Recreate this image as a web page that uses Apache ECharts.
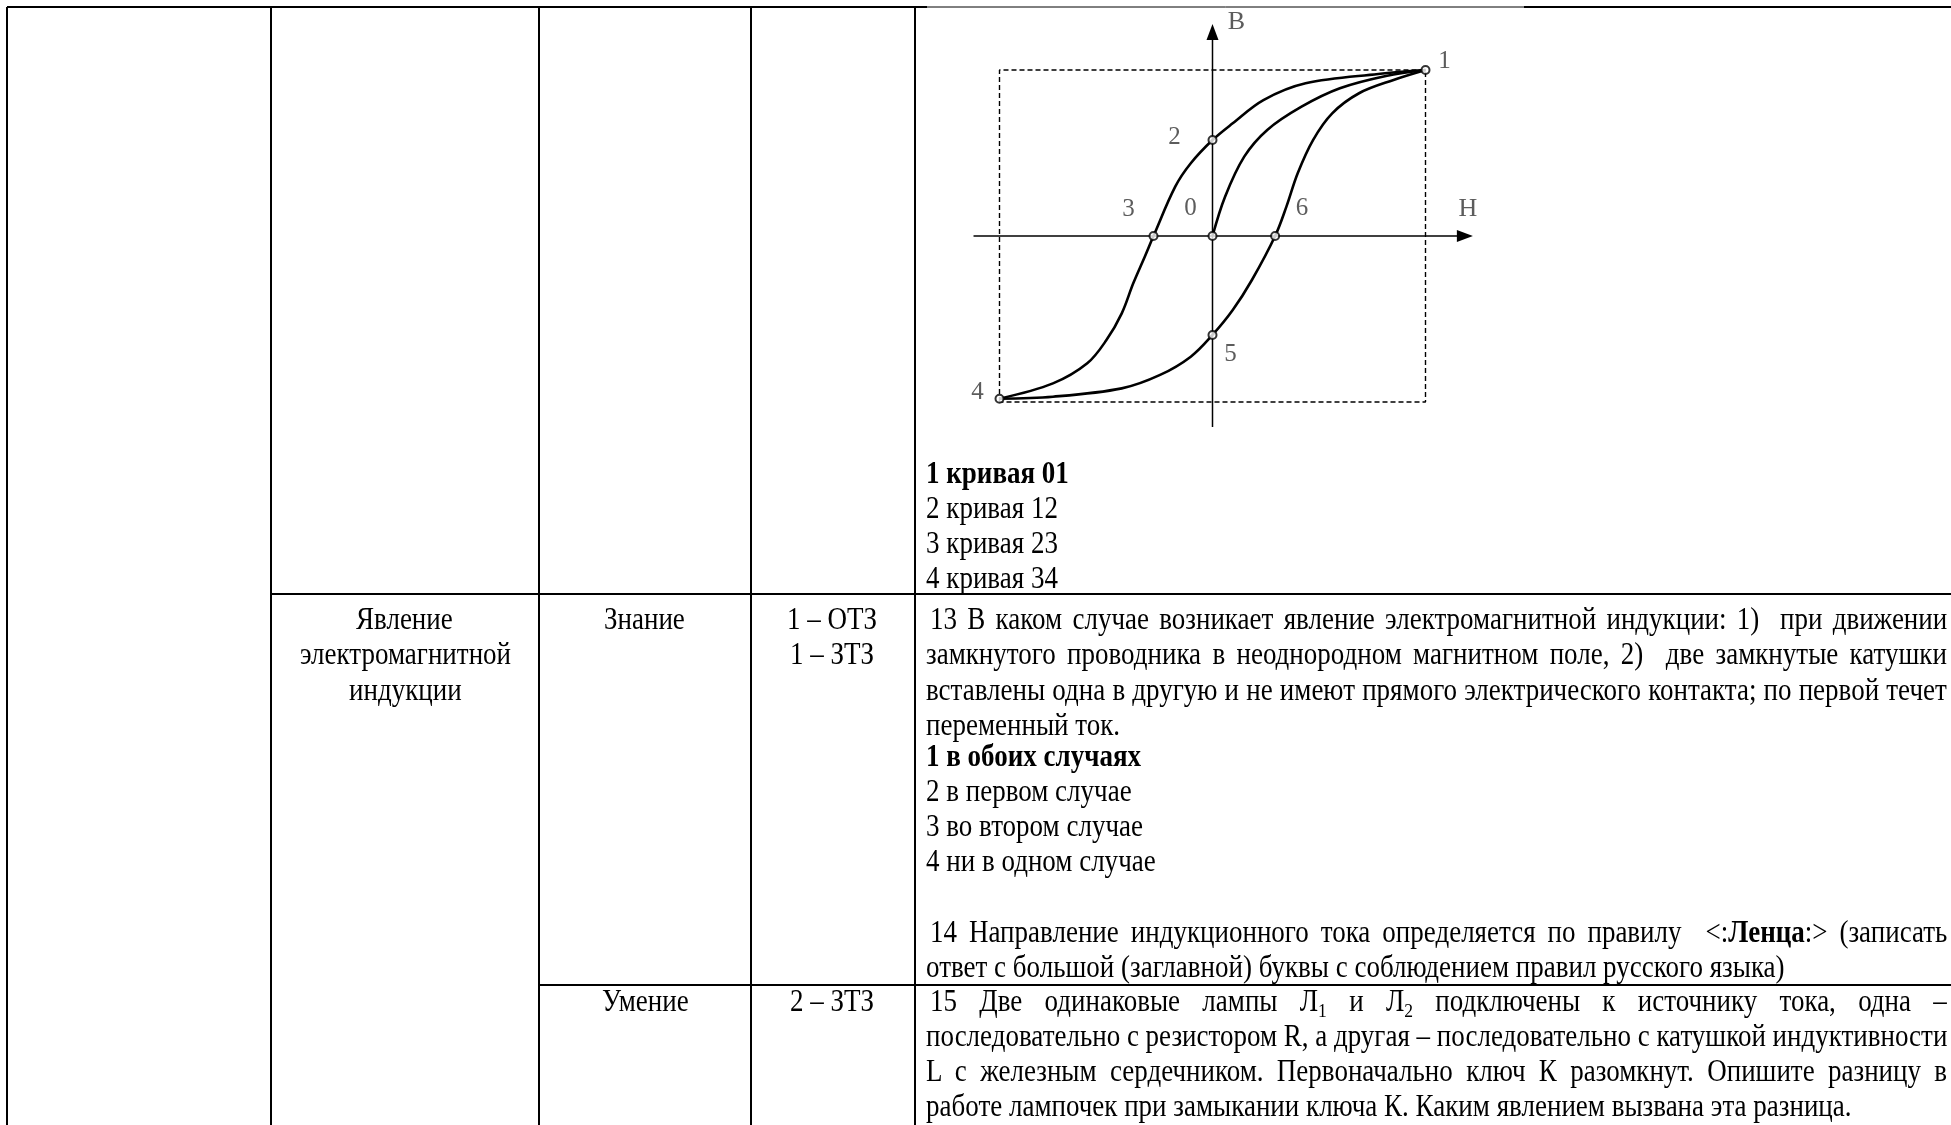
<!DOCTYPE html>
<html>
<head>
<meta charset="utf-8">
<script src="https://cdn.jsdelivr.net/npm/echarts@6/dist/echarts.min.js"></script>
<style>
html, body { margin: 0; padding: 0; background: #fff; }
#main { position: absolute; left: 0; top: 0; width: 1951px; height: 1125px; }
.ln { position: absolute; white-space: pre; font-family: "Liberation Serif", "Times New Roman", serif;
      font-size: 30.6px; line-height: 35.2px; color: #000; transform-origin: 0 0; }
.sub { font-size: 0.65em; line-height: 0; position: relative; top: 0.3em; }
</style>
</head>
<body>
<div id="main"></div>
<script>
// петля гистерезиса: H по горизонтали, B по вертикали (в долях от насыщения)
var curve01H = [0, 0.059, 0.149, 0.257, 0.418, 0.598, 0.814, 1];
var curve01B = [0, 0.237, 0.478, 0.639, 0.779, 0.89, 0.964, 1];

// верхняя ветвь 1 - 2 - 3 - 4
var upperH = [1, 0.778, 0.437, 0.239, 0.095, 0, -0.102, -0.175, -0.277, -0.318, -0.372, -0.426, -0.498, -0.588, -0.749, -1];
var upperB = [1, 0.976, 0.92, 0.819, 0.679, 0.578, 0.438, 0.297, 0, -0.125, -0.285, -0.466, -0.627, -0.767, -0.888, -0.98];

// нижняя ветвь 4 - 5 - 6 - 1
var lowerH = [-1, -0.749, -0.426, -0.246, -0.102, 0, 0.095, 0.185, 0.294, 0.347, 0.4, 0.472, 0.562, 0.688, 0.85, 1];
var lowerB = [-0.98, -0.968, -0.918, -0.837, -0.727, -0.596, -0.446, -0.265, 0, 0.177, 0.378, 0.578, 0.739, 0.86, 0.94, 1];

// отмеченные точки
var pointNames = ['0', '1', '2', '3', '4', '5', '6'];
var pointH = [0, 1, 0, -0.277, -1, 0, 0.294];
var pointB = [0, 1, 0.578, 0, -0.98, -0.596, 0];

// пунктирная рамка насыщения
var rectH = [-1, -1, 1, 1, -1];
var rectB = [-1, 1, 1, -1, -1];

// оси
var axisNames = ['H', 'B'];
var hAxisRange = [-1.122, 1.185];
var bAxisRange = [-1.15, 1.229];

// текст таблицы
var col2Row2 = ['Явление', 'электромагнитной', 'индукции'];
var col3Row2 = ['Знание'];
var col4Row2 = ['1 – ОТЗ', '1 – ЗТЗ'];
var col3Row3 = ['Умение'];
var col4Row3 = ['2 – ЗТЗ'];
var answers12 = ['<b>1 кривая 01</b>', '2 кривая 12', '3 кривая 23', '4 кривая 34'];
var question13 = [
    ' 13 В каком случае возникает явление электромагнитной индукции: 1)  при движении',
    'замкнутого проводника в неоднородном магнитном поле, 2)  две замкнутые катушки',
    'вставлены одна в другую и не имеют прямого электрического контакта; по первой течет',
    'переменный ток.'
];
var answers13 = ['<b>1 в обоих случаях</b>', '2 в первом случае', '3 во втором случае', '4 ни в одном случае'];
var question14 = [
    ' 14 Направление индукционного тока определяется по правилу  &lt;:<b>Ленца</b>:&gt; (записать',
    'ответ с большой (заглавной) буквы с соблюдением правил русского языка)'
];
var question15 = [
    ' 15 Две одинаковые лампы Л<span class="sub">1</span> и Л<span class="sub">2</span> подключены к источнику тока, одна –',
    'последовательно с резистором R, а другая – последовательно с катушкой индуктивности',
    'L с железным сердечником. Первоначально ключ К разомкнут. Опишите разницу в',
    'работе лампочек при замыкании ключа К. Каким явлением вызвана эта разница.'
];

var chart = echarts.init(document.getElementById('main'));

var originX = 1212.5, originY = 236, unitH = 213, unitB = 166;
var hMin = -1.2, hMax = 1.3, bMin = -1.3, bMax = 1.3;

function pairs(xs, ys) {
    return xs.map(function (x, i) { return [x, ys[i]]; });
}

var labelOffsets = {
    '0': [-22, -28], '1': [19, -9], '2': [-38, -3], '3': [-25, -27],
    '4': [-22, -6], '5': [18, 20], '6': [27, -28], 'H': [3, -27], 'B': [24, -10]
};
var labelFont = { fontFamily: 'Liberation Serif', fontSize: 25, color: '#333' };

function curve(name, xs, ys) {
    return {
        type: 'line', name: name, data: pairs(xs, ys), symbol: 'none', smooth: 0.35,
        lineStyle: { color: '#000', width: 2.6 }, z: 3
    };
}

function axisSeries(name, data) {
    return {
        type: 'line', name: name, data: data, symbol: 'none',
        itemStyle: { color: '#000' }, lineStyle: { color: '#000', width: 1.5 }, z: 2
    };
}

var hAxisData = [
    { value: [hAxisRange[0], 0] },
    { value: [hAxisRange[1], 0], symbol: 'triangle', symbolSize: [12, 16], symbolRotate: -90 }
];
var bAxisData = [
    { value: [0, bAxisRange[0]] },
    { value: [0, bAxisRange[1]], symbol: 'triangle', symbolSize: [12, 16] }
];

// линии таблицы
var tableLines = [
    [7, 7, 927, 7, 2], [927, 7, 1524, 7, 1], [1524, 7, 1951, 7, 2],
    [7, 7, 7, 1125, 2], [271, 7, 271, 1125, 2], [539, 7, 539, 1125, 2],
    [751, 7, 751, 1125, 2], [915, 7, 915, 1125, 2],
    [271, 594, 1951, 594, 2], [539, 985, 1951, 985, 2]
];
var graphics = [];
tableLines.forEach(function (l) {
    graphics.push({
        type: 'line', z: 10, shape: { x1: l[0], y1: l[1], x2: l[2], y2: l[3] },
        style: { stroke: '#000', lineWidth: l[4] }
    });
});

var option = {
    animation: false,
    grid: {
        left: originX + hMin * unitH, top: originY - bMax * unitB,
        width: (hMax - hMin) * unitH, height: (bMax - bMin) * unitB
    },
    xAxis: { type: 'value', min: hMin, max: hMax, show: false },
    yAxis: { type: 'value', min: bMin, max: bMax, show: false },
    graphic: graphics,
    series: [
        {
            type: 'line', name: 'рамка', data: pairs(rectH, rectB), symbol: 'none',
            lineStyle: { color: '#000', width: 1.4, type: [5, 3] }, z: 1
        },
        axisSeries('H', hAxisData),
        axisSeries('B', bAxisData),
        curve('01', curve01H, curve01B),
        curve('1234', upperH, upperB),
        curve('4561', lowerH, lowerB),
        {
            type: 'scatter', name: 'подписи осей',
            data: [[hAxisRange[1], 0], [0, bAxisRange[1]]],
            symbol: 'circle', symbolSize: 1, itemStyle: { color: 'rgba(0,0,0,0)' },
            label: {
                show: true, position: 'inside', align: 'center', verticalAlign: 'middle',
                fontFamily: labelFont.fontFamily, fontSize: 26, color: labelFont.color,
                formatter: function (p) { return axisNames[p.dataIndex]; }
            },
            labelLayout: function (p) {
                var o = labelOffsets[axisNames[p.dataIndex]];
                return { dx: o[0], dy: o[1] };
            },
            z: 6
        },
        {
            type: 'scatter', name: 'точки',
            data: pairs(pointH, pointB),
            symbol: 'emptyCircle', symbolSize: 8,
            itemStyle: { color: '#000', borderColor: '#000', borderWidth: 1.3 },
            label: {
                show: true, position: 'inside', align: 'center', verticalAlign: 'middle',
                fontFamily: labelFont.fontFamily, fontSize: labelFont.fontSize, color: labelFont.color,
                formatter: function (p) { return pointNames[p.dataIndex]; }
            },
            labelLayout: function (p) {
                var o = labelOffsets[pointNames[p.dataIndex]];
                return { dx: o[0], dy: o[1] };
            },
            z: 5
        }
    ]
};
chart.setOption(option);

// ----- текст таблицы -----
var LH = 35.2, ASC = 27.9;

function makeLine(html) {
    var d = document.createElement('div');
    d.className = 'ln';
    d.innerHTML = html;
    document.body.appendChild(d);
    return d;
}

// горизонтальное сжатие скана
var refA = makeLine(question15[3]);
var refB = makeLine(question14[1]);
var sx = (919 + 865) / (refA.offsetWidth + refB.offsetWidth);
document.body.removeChild(refA);
document.body.removeChild(refB);

function place(html, x, baseline, mode, right) {
    var lead = html.charAt(0) === ' ';
    if (lead) { html = html.slice(1); x += 4; }
    var d = makeLine(html);
    var w = d.offsetWidth;
    if (mode === 'center') {
        x = x - w * sx / 2;
    } else if (mode === 'justify') {
        var n = (d.textContent.match(/ /g) || []).length;
        if (n > 0) d.style.wordSpacing = (((right - x) / sx - w) / n) + 'px';
    }
    d.style.left = x + 'px';
    d.style.top = (baseline - ASC) + 'px';
    d.style.transform = 'scaleX(' + sx + ')';
}

var textX = 926, textR = 1947;
answers12.forEach(function (t, i) { place(t, textX, 483.5 + i * LH, 'left'); });

var row2 = 630, row2b = 766.5, row3 = 1011.7;
col2Row2.forEach(function (t, i) { place(t, 405, row2 + i * LH, 'center'); });
col3Row2.forEach(function (t, i) { place(t, 645, row2 + i * LH, 'center'); });
col4Row2.forEach(function (t, i) { place(t, 832, row2 + i * LH, 'center'); });
col3Row3.forEach(function (t, i) { place(t, 645, row3 + i * LH, 'center'); });
col4Row3.forEach(function (t, i) { place(t, 832, row3 + i * LH, 'center'); });

question13.forEach(function (t, i) {
    place(t, textX, row2 + i * LH, i < question13.length - 1 ? 'justify' : 'left', textR);
});
answers13.forEach(function (t, i) { place(t, textX, row2b + i * LH, 'left'); });
question14.forEach(function (t, i) {
    place(t, textX, row2b + (5 + i) * LH, i < question14.length - 1 ? 'justify' : 'left', textR);
});
question15.forEach(function (t, i) {
    place(t, textX, row3 + i * LH, i < question15.length - 1 ? 'justify' : 'left', textR);
});
</script>
</body>
</html>
